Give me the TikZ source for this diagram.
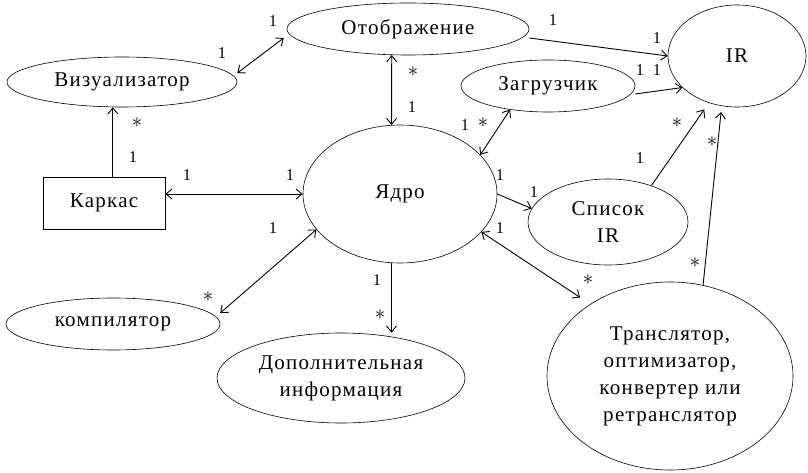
\documentclass[tikz,border=0pt]{standalone}
\usepackage{fontspec}
\setmainfont{Liberation Serif}[LetterSpace=6]
\usetikzlibrary{shapes.geometric,arrows.meta}
\begin{document}
\begin{tikzpicture}[
    x=1pt, y=-1pt,
    unit/.style={ellipse, draw=black, semithick, inner sep=0pt, align=center, font=\fontsize{21}{27}\selectfont},
    block/.style={rectangle, draw=black, semithick, inner sep=0pt, minimum width=122pt, minimum height=52pt, font=\fontsize{21}{27}\selectfont},
    link/.style={<->, >={Straight Barb[length=6pt,width=10pt]}, line width=0.9pt},
    flow/.style={->, >={Straight Barb[length=6pt,width=10pt]}, line width=0.9pt},
    mult/.style={font=\fontsize{16.5}{16.5}\selectfont, inner sep=0pt},
    many/.style={font=\fontsize{21}{21}\selectfont, inner sep=0pt}
]
\useasboundingbox (0,0) rectangle (808,473);

% Upper row
\node[unit, minimum width=242pt, minimum height=52pt] (display) at (408,29) {Отображение};
\node[unit, minimum width=230pt, minimum height=50pt] (visual) at (122,82) {Визуализатор};
\node[unit, minimum width=138pt, minimum height=102pt] (ir) at (737,56) {IR};
\node[unit, minimum width=174pt, minimum height=52pt] (loader) at (548,86) {Загрузчик};

% Middle row
\node[block] (frame) at (104,203) {Каркас};
\node[unit, minimum width=194pt, minimum height=138pt] (core) at (400,194) {Ядро};
\node[unit, minimum width=160pt, minimum height=86pt] (irlist) at (608,222) {Список\\IR};

% Lower row
\node[unit, minimum width=214pt, minimum height=52pt] (compiler) at (113,324) {компилятор};
\node[unit, minimum width=248pt, minimum height=90pt] (info) at (341,378) {Дополнительная\\информация};
\node[unit, minimum width=246pt, minimum height=188pt] (trans) at (670,376) {Транслятор,\\оптимизатор,\\конвертер или\\ретранслятор};

% Associations
\draw[link] ([yshift=9pt]visual.east) -- ([xshift=-3pt,yshift=-9pt]display.west);
\draw[link] (display.238) -- (core.97);
\draw[flow] ([yshift=-9pt]display.east) -- (ir.180);
\draw[flow] ([yshift=-8pt]loader.east) -- (ir.210);
\draw[link] (loader.212) -- (core.26);
\draw[flow] (visual.250 |- frame.north) -- (visual.250);
\draw[link] (core.west -| frame.east) -- (core.west);
\draw[flow] (core.east) -- (irlist.170);
\draw[link, shorten >=12pt] (core.335) -- (trans.138);
\draw[flow, shorten >=8pt] (irlist.40) -- (ir.239);
\draw[flow, shorten >=6pt] (trans.70) -- (ir.253);
\draw[link] (core.203) -- ([yshift=11pt]compiler.east);
\draw[flow] (core.263) -- (core.263 |- info.north);

% Multiplicities
\node[mult] (m-vd) at (222,53) {1};
\node[mult] (m-dv) at (273,21) {1};
\node[many] (m-dc) at (413,72) {$\ast$};
\node[mult] (m-cd) at (412,107) {1};
\node[mult] (m-di) at (553,20) {1};
\node[mult] (m-id) at (657,38) {1};
\node[mult] (m-li) at (640,70) {1};
\node[mult] (m-il) at (657,70) {1};
\node[mult] (m-cl) at (465,125) {1};
\node[many] (m-lc) at (483,123) {$\ast$};
\node[many] (m-ri) at (677,123) {$\ast$};
\node[mult] (m-ir) at (640,158) {1};
\node[many] (m-ti) at (712,142) {$\ast$};
\node[many] (m-it) at (695,263) {$\ast$};
\node[mult] (m-cr) at (500,175) {1};
\node[mult] (m-rc) at (534,192) {1};
\node[mult] (m-ct) at (500,228) {1};
\node[many] (m-tc) at (588,280) {$\ast$};
\node[many] (m-fv) at (137,123) {$\ast$};
\node[mult] (m-vf) at (133,157) {1};
\node[mult] (m-fc) at (187,175) {1};
\node[mult] (m-cf) at (290,175) {1};
\node[mult] (m-co) at (273,228) {1};
\node[many] (m-oc) at (208,297) {$\ast$};
\node[mult] (m-ci) at (377,280) {1};
\node[many] (m-ic) at (380,315) {$\ast$};

\end{tikzpicture}
\end{document}
